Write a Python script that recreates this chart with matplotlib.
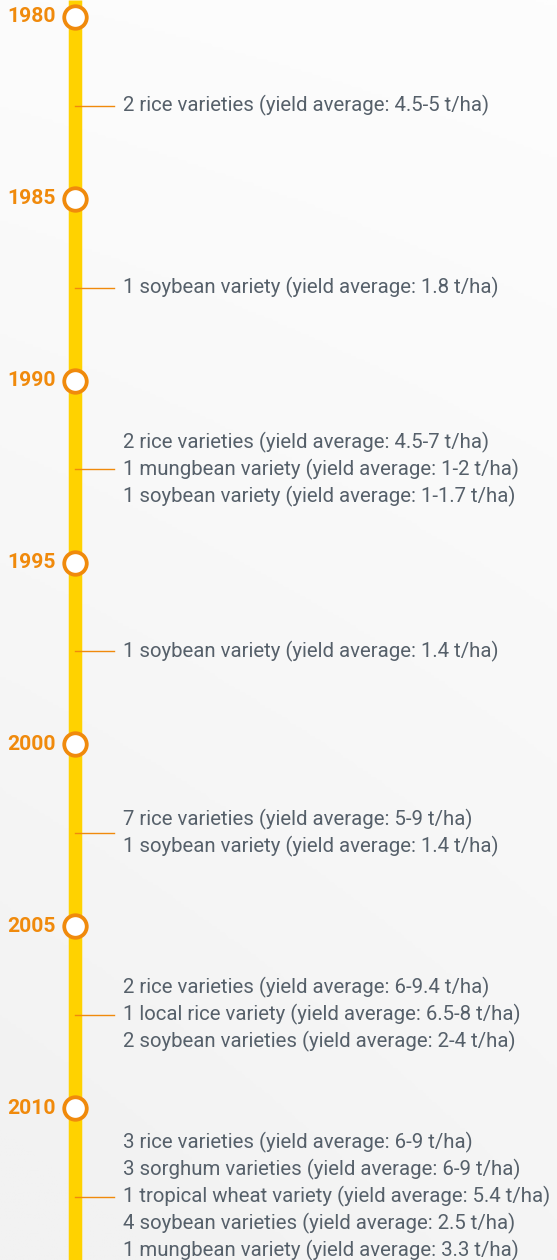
import numpy as np
import matplotlib
matplotlib.use("Agg")
import matplotlib.pyplot as plt
from matplotlib.colors import LinearSegmentedColormap

years = [1980, 1985, 1990, 1995, 2000, 2005, 2010]
entry_years = [1982.5, 1987.5, 1992.5, 1997.5, 2002.5, 2007.5, 2012.5]
entries = [
    ["2 rice varieties (yield average: 4.5-5 t/ha)"],
    ["1 soybean variety (yield average: 1.8 t/ha)"],
    ["2 rice varieties (yield average: 4.5-7 t/ha)",
     "1 mungbean variety (yield average: 1-2 t/ha)",
     "1 soybean variety (yield average: 1-1.7 t/ha)"],
    ["1 soybean variety (yield average: 1.4 t/ha)"],
    ["7 rice varieties (yield average: 5-9 t/ha)",
     "1 soybean variety (yield average: 1.4 t/ha)"],
    ["2 rice varieties (yield average: 6-9.4 t/ha)",
     "1 local rice variety (yield average: 6.5-8 t/ha)",
     "2 soybean varieties (yield average: 2-4 t/ha)"],
    ["3 rice varieties (yield average: 6-9 t/ha)",
     "3 sorghum varieties (yield average: 6-9 t/ha)",
     "1 tropical wheat variety (yield average: 5.4 t/ha)",
     "4 soybean varieties (yield average: 2.5 t/ha)",
     "1 mungbean variety (yield average: 3.3 t/ha)"],
]

W, H = 557, 1260
ORANGE = "#F08A0C"
YELLOW = "#FFD200"
TEXT = "#56606a"

fig = plt.figure(figsize=(W / 100, H / 100), dpi=100)
ax = fig.add_axes([0, 0, 1, 1])
px_per_year = (1108 - 17) / 30.0
y_top = 1980 - 17 / px_per_year
y_bot = 2010 + (H - 1108) / px_per_year
ax.set_xlim(0, W)
ax.set_ylim(y_bot, y_top)
ax.axis("off")

# background gradient (subtle, lighter at top right)
gx, gy = np.meshgrid(np.linspace(0, 1, 200), np.linspace(0, 1, 400))
grad = 0.75 * gy + 0.25 * (1 - gx) * gy + 0.1 * (1 - gx)
cmap = LinearSegmentedColormap.from_list("bg", ["#fdfdfd", "#f2f2f2"])
ax.imshow(grad, extent=[0, W, y_bot, y_top], cmap=cmap, aspect="auto",
          zorder=0, vmin=0, vmax=1)

line_x = 74.5
ax.plot([line_x, line_x], [y_top, y_bot], color=YELLOW, lw=13.5 * 0.72,
        solid_capstyle="butt", zorder=1)

ax.scatter([line_x] * len(years), years, s=(22.5 * 0.72) ** 2, facecolor="white",
           edgecolor=ORANGE, linewidth=3.8 * 0.72, zorder=3)
for yr in years:
    ax.text(56, yr, str(yr), ha="right", va="center", color=ORANGE,
            fontsize=15.2, fontweight="bold", family="Roboto", zorder=4)

line_h = 27 / px_per_year
for ey, lines in zip(entry_years, entries):
    ax.plot([75, 114], [ey - 0.06, ey - 0.06], color=ORANGE, lw=1.0, zorder=2)
    n = len(lines)
    for i, t in enumerate(lines):
        yy = ey - 0.06 + (i - (n - 1) / 2) * line_h
        ax.text(123, yy, t, ha="left", va="center", color=TEXT,
                fontsize=14.7, family="Roboto", zorder=4)

fig.savefig("out.png", dpi=100)
